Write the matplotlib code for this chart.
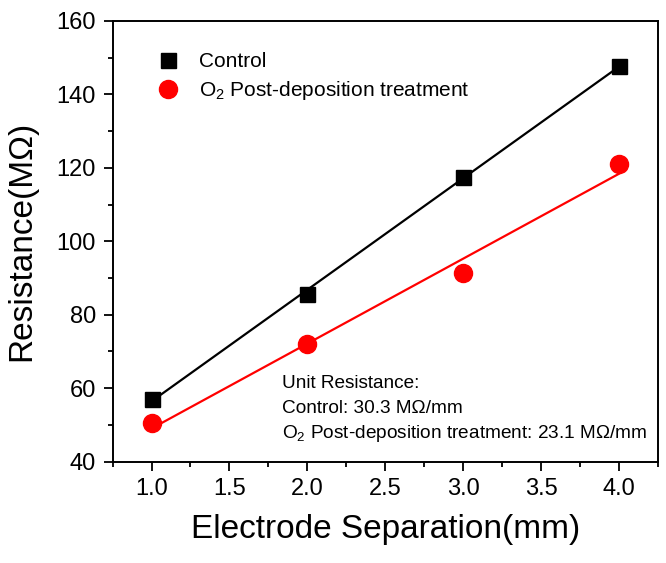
import numpy as np
import matplotlib
matplotlib.use("Agg")
import matplotlib.pyplot as plt
from matplotlib.ticker import MultipleLocator

plt.rcParams.update({
    'font.family': ['Liberation Sans', 'DejaVu Sans'],
    'mathtext.fontset': 'custom',
    'mathtext.rm': 'Liberation Sans',
    'mathtext.it': 'Liberation Sans:italic',
    'axes.linewidth': 1.4,
})

# electrode separation (mm) and resistance (MOhm)
separation = [1.0, 2.0, 3.0, 4.0]
r_control = [57.1, 85.6, 117.5, 147.7]
r_o2 = [50.4, 72.0, 91.4, 121.0]
xticks = [1.0, 1.5, 2.0, 2.5, 3.0, 3.5, 4.0]
yticks = [40, 60, 80, 100, 120, 140, 160]

fig = plt.figure(figsize=(6.66, 5.63), dpi=100)
ax = fig.add_axes([0.169, 0.180, 0.819, 0.783])

x = np.array(separation)
# linear fits
for y, color in [(r_control, 'black'), (r_o2, '#ff0000')]:
    k, b = np.polyfit(x, y, 1)
    ax.plot(x, k * x + b, color=color, lw=1.6, zorder=2)

ax.plot(separation, r_control, 's', color='black', ms=10.8, ls='none',
        label='Control', zorder=3)
ax.plot(separation, r_o2, 'o', color='#ff0000', ms=13, ls='none',
        label=r'O$_2$ Post-deposition treatment', zorder=3)

ax.set_xlim(0.75, 4.25)
ax.set_ylim(40, 160)
ax.set_xticks(xticks)
ax.set_xticklabels([f'{t:.1f}' for t in xticks])
ax.set_yticks(yticks)
ax.xaxis.set_minor_locator(MultipleLocator(0.25))
ax.yaxis.set_minor_locator(MultipleLocator(10))
ax.tick_params(which='major', direction='out', length=6.5, width=1.3,
               labelsize=17, pad=5.5, top=False, right=False)
ax.tick_params(which='minor', direction='out', length=3.3, width=1.3,
               top=False, right=False)

ax.set_xlabel('Electrode Separation(mm)', fontsize=24, labelpad=10)
ax.set_ylabel('Resistance(M\u03a9)', fontsize=24, labelpad=14)

ax.legend(loc='upper left', bbox_to_anchor=(0.082, 0.929), frameon=False,
          fontsize=15, handletextpad=1.0, labelspacing=0.4,
          handlelength=1.0, borderpad=0, borderaxespad=0)

ax.text(0.31, 0.177, 'Unit Resistance:', transform=ax.transAxes,
        fontsize=13.7, va='center')
ax.text(0.31, 0.12, 'Control: 30.3 M\u03a9/mm', transform=ax.transAxes,
        fontsize=13.7, va='center')
ax.text(0.31, 0.063, r'O$_2$ Post-deposition treatment: 23.1 M$\Omega$/mm',
        transform=ax.transAxes, fontsize=13.7, va='center')

fig.savefig('out.png', dpi=100)
